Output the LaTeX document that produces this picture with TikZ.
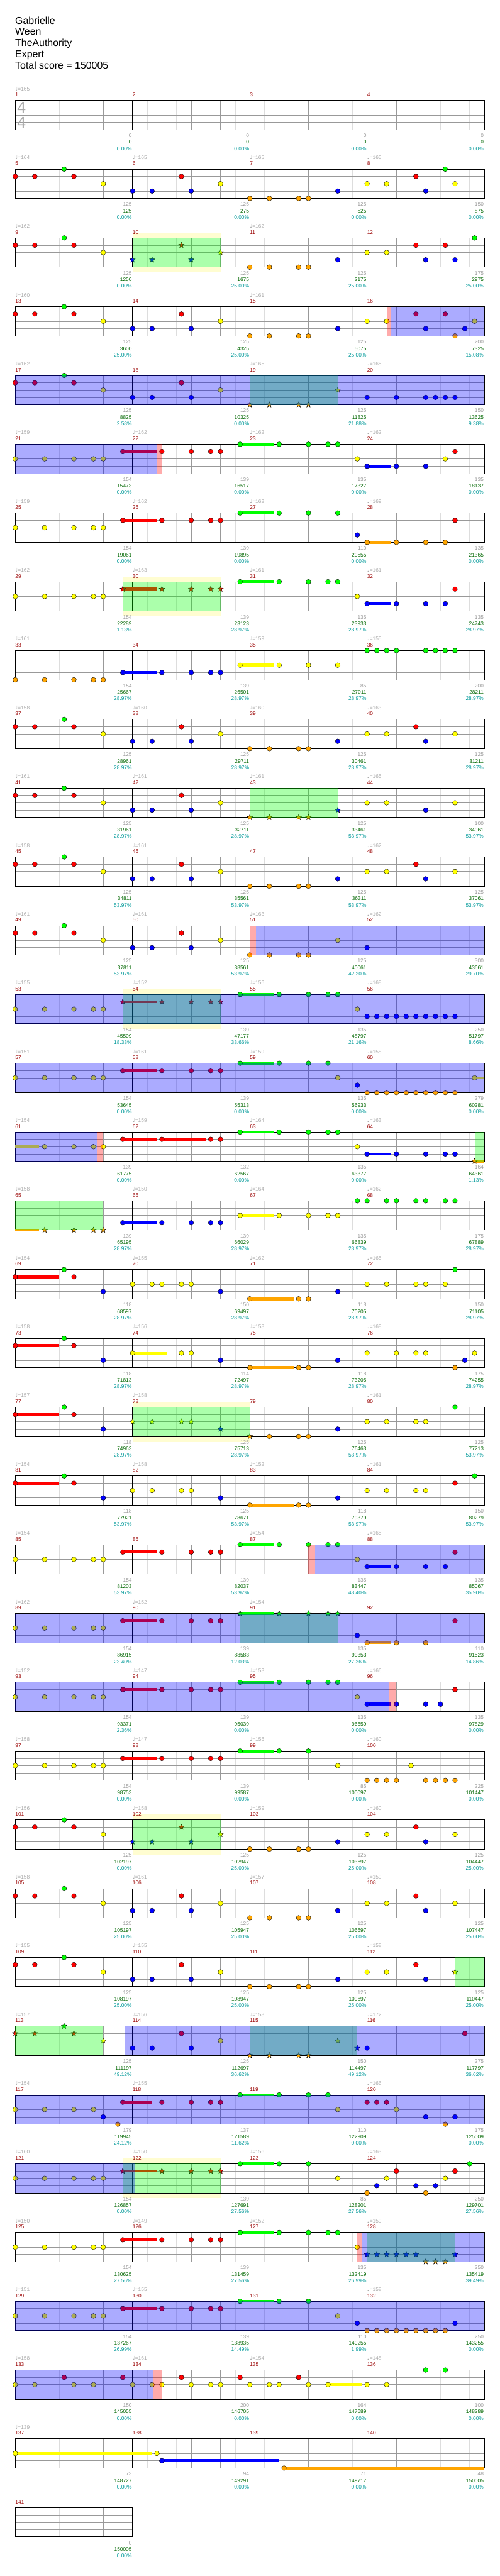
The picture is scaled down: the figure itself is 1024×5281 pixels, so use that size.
\documentclass[tikz,border=0pt]{standalone}
\usepackage{fontspec}
\setmainfont{Liberation Sans}
\newfontfamily\symf{DejaVu Sans}
\usetikzlibrary{shapes.geometric}

\definecolor{lane0}{HTML}{00FF00}
\definecolor{lane1}{HTML}{FF0000}
\definecolor{lane2}{HTML}{FFFF00}
\definecolor{lane3}{HTML}{0000FF}
\definecolor{lane4}{HTML}{FFA500}
\definecolor{gline}{HTML}{999999}
\definecolor{lite}{HTML}{DDDDDD}
\definecolor{cred}{HTML}{990000}
\definecolor{cgray}{HTML}{999999}
\definecolor{cgreen}{HTML}{006600}
\definecolor{ccyan}{HTML}{009999}
\definecolor{ctempo}{HTML}{AAAAAA}

\newcount\ncnt
\newcommand\nts[2]{\foreach \tp in {#2}{\global\advance\ncnt by 1
  \node[notehd,fill=lane#1] (n\the\ncnt) at (\tp,{15*#1}) {};}}
\newcommand\sts[2]{\foreach \tp in {#2}{\global\advance\ncnt by 1
  \node[starhd,fill=lane#1] (n\the\ncnt) at (\tp,{15*#1}) {};}}
\newcommand\sus[3]{\draw[susbar,lane#1] (#2,{15*#1}) -- (#3,{15*#1});}
\newcommand\spb[2]{\fill[spblue] (#1,0) rectangle (#2,60);}
\newcommand\spg[2]{\fill[spgreen] (#1,0) rectangle (#2,60);}
\newcommand\spr[2]{\fill[sppink] (#1,0) rectangle (#2,60);}
\newcommand\grid[1]{%
  \fill[white] (0,0) rectangle (#1,60);
  \foreach \ee in {1.5,4.5,...,#1} \draw[eighth] (\ee,0) -- (\ee,60);
  \foreach \ee in {3,6,...,#1} \draw[beat] (\ee,0) -- (\ee,60);
  \foreach \ee in {15,30,45} \draw[beat] (0,\ee) -- (#1,\ee);}
\newcommand\tempos[2]{\foreach \tv [count=\jj from 0] in {#2}{%
  \ifnum\tv>0 \node[tempo] (tp#1-\jj) at (12*\jj,-20) {{\symf ♩}=\tv};\fi}}
\newcommand\scores[2]{\foreach \ga/\gb/\gc [count=\jj] in {#2}{%
  \node[sgray] (sa#1-\jj) at (12*\jj,76) {\ga};
  \node[sgreen] (sb#1-\jj) at (12*\jj,89.5) {\gb};
  \node[scyan] (sc#1-\jj) at (12*\jj,102.5) {\gc\%};}}

\begin{document}
\begin{tikzpicture}[x=1pt,y=-1pt,
  rowat/.style={shift={(31.3,{205.7+141*(#1-1)})},x=20.033pt},
  notehd/.style={circle,draw=black,line width=.5pt,inner sep=0pt,minimum size=10pt},
  starhd/.style={star,star points=5,star point ratio=2.3,draw=black,line width=.5pt,inner sep=0pt,minimum size=12pt},
  susbar/.style={line width=6pt},
  spblue/.style={fill=blue,fill opacity=.33},
  spgreen/.style={fill=lane0,fill opacity=.33},
  sppink/.style={fill=red,fill opacity=.33},
  halo/.style={fill=yellow,fill opacity=.18},
  eighth/.style={draw=lite,line width=.8pt},
  beat/.style={draw=gline,line width=.8pt},
  barline/.style={draw=black,line width=.8pt},
  staff/.style={draw=black,line width=1pt},
  smalltxt/.style={font=\fontsize{10.8}{12}\selectfont,inner sep=0pt},
  tempo/.style={smalltxt,text=ctempo,anchor=base west},
  mnum/.style={smalltxt,text=cred,anchor=base west},
  sgray/.style={smalltxt,text=cgray,anchor=base east,xshift=-1.3pt},
  sgreen/.style={smalltxt,text=cgreen,anchor=base east,xshift=-1.3pt},
  scyan/.style={smalltxt,text=ccyan,anchor=base east,xshift=-1.3pt},
  title/.style={font=\fontsize{20.5}{23}\selectfont,inner sep=0pt,anchor=base west},
  timesig/.style={font=\fontsize{32}{32}\selectfont,text=ctempo,inner sep=0pt,anchor=base west}]
  \useasboundingbox (0,0) rectangle (1024,5281);

  \node[title] (song) at (31,49) {Gabrielle};
  \node[title] (band) at (31,72) {Ween};
  \node[title] (charter) at (31,95) {TheAuthority};
  \node[title] (level) at (31,118) {Expert};
  \node[title] (total) at (31,141) {Total score = 150005};

  % halos behind the staves
  \foreach \rw/\ha/\hb in {3/12/21,8/11/21,14/11/21,20/12/24,26/12/21,31/11/21}{
    \begin{scope}[rowat=\rw] \fill[halo] (\ha,-11) rectangle (\hb,71); \end{scope}}

  % staves
  \foreach \rw in {1,...,35}{
    \begin{scope}[rowat=\rw]
      \grid{48}
      \foreach \ee in {12,24,36} \draw[barline] (\ee,0) -- (\ee,60);
      \draw[staff] (0,0) rectangle (48,60);
      \foreach \jj in {0,...,3}{\pgfmathtruncatemacro\mn{4*\rw+\jj-3}
        \node[mnum] (mn\mn) at (12*\jj,-7.7) {\mn};}
    \end{scope}}
  \begin{scope}[rowat=36]
    \grid{12}
    \draw[staff] (0,0) rectangle (12,60);
    \node[mnum] (mn141) at (0,-7.7) {141};
    \scores{36}{0/150005/0.00}
  \end{scope}

  \node[timesig] (tsa) at (35,232) {4};
  \node[timesig] (tsb) at (35,263) {4};

  \begin{scope}[rowat=1]
    \tempos{1}{165,0,0,0}
    \scores{1}{0/0/0.00,0/0/0.00,0/0/0.00,0/0/0.00}
  \end{scope}

  \begin{scope}[rowat=2]
    \tempos{2}{164,165,165,165}
    \scores{2}{125/125/0.00,125/275/0.00,125/525/0.00,150/875/0.00}
    \nts0{5,44} \nts1{0,2,6,17,41} \nts2{9,21,36,38,45} \nts3{12,14,18,33,42} \nts4{24,26,29,30}
  \end{scope}

  \begin{scope}[rowat=3]
    \tempos{3}{162,0,162,0}
    \scores{3}{125/1250/0.00,125/1675/25.00,125/2175/25.00,175/2975/25.00}
    \nts0{5,47} \nts1{0,2,6,41,44} \nts2{9,36,38} \nts3{33,42,45} \nts4{24,26,29,30}
    \sts3{12,14,18} \sts1{17} \sts2{21}
    \spg{12}{21}
  \end{scope}

  \begin{scope}[rowat=4]
    \tempos{4}{160,0,161,0}
    \scores{4}{125/3600/25.00,125/4325/25.00,125/5075/25.00,200/7325/15.08}
    \nts0{5} \nts1{0,2,6,17,41,44} \nts2{9,21,36,38,47} \nts3{12,14,18,33,42,46} \nts4{24,26,29,30,45}
    \spr{38}{38.5} \spb{38.5}{48}
  \end{scope}

  \begin{scope}[rowat=5]
    \tempos{5}{162,0,165,165}
    \scores{5}{125/8825/2.58,125/10325/0.00,125/11825/21.88,150/13625/9.38}
    \nts0{5} \nts1{0,2,6,17} \nts2{9,21} \nts3{12,14,18,36,39,42,43,44,45}
    \sts4{24,26,29,30} \sts2{33}
    \spg{24}{33} \spb{0}{48}
  \end{scope}

  \begin{scope}[rowat=6]
    \tempos{6}{159,162,162,162}
    \scores{6}{154/15473/0.00,139/16517/0.00,135/17327/0.00,135/18137/0.00}
    \sus1{11}{14.45} \sus0{23}{26.5} \sus3{36}{38.5}
    \nts0{23,27,30,32,33} \nts1{11,15,18,20,21,45} \nts2{0,3,6,8,9,35,44} \nts3{36,39,42}
    \spb{0}{14.45} \spr{14.45}{15}
  \end{scope}

  \begin{scope}[rowat=7]
    \tempos{7}{159,162,162,169}
    \scores{7}{154/19061/0.00,139/19895/0.00,110/20555/0.00,135/21365/0.00}
    \sus1{11}{14.45} \sus0{23}{26.5} \sus4{36}{38.5}
    \nts0{23,27,30,33} \nts1{11,15,18,20,21,45} \nts2{0,3,6,8,9} \nts3{35} \nts4{36,39,42,44}
  \end{scope}

  \begin{scope}[rowat=8]
    \tempos{8}{162,163,161,161}
    \scores{8}{154/22289/1.13,139/23123/28.97,135/23933/28.97,135/24743/28.97}
    \sus1{11}{14.45} \sus0{23}{26.5} \sus3{36}{38.5}
    \nts0{23,27,30,32,33} \nts1{45} \nts2{0,3,6,8,9,35} \nts3{36,39,42,44}
    \sts1{11,15,18,20,21}
    \spg{11}{21}
  \end{scope}

  \begin{scope}[rowat=9]
    \tempos{9}{161,0,159,155}
    \scores{9}{154/25667/28.97,139/26501/28.97,85/27011/28.97,200/28211/28.97}
    \sus3{11}{14.45} \sus2{23}{26.5}
    \nts0{36,37,38,39,42,43,44,45} \nts2{23,27,30,33} \nts3{11,15,18,20,21} \nts4{0,3,6,8,9}
  \end{scope}

  \begin{scope}[rowat=10]
    \tempos{10}{158,160,160,163}
    \scores{10}{125/28961/28.97,125/29711/28.97,125/30461/28.97,125/31211/28.97}
    \nts0{5} \nts1{0,2,6,17,41} \nts2{9,21,36,38,45} \nts3{12,14,18,33,42} \nts4{24,26,29,30}
  \end{scope}

  \begin{scope}[rowat=11]
    \tempos{11}{161,161,161,165}
    \scores{11}{125/31961/28.97,125/32711/28.97,125/33461/53.97,100/34061/53.97}
    \nts0{5} \nts1{0,2,6,17} \nts2{9,21,36,38,45} \nts3{12,14,18,42}
    \sts4{24,26,29,30} \sts3{33}
    \spg{24}{33}
  \end{scope}

  \begin{scope}[rowat=12]
    \tempos{12}{158,161,0,162}
    \scores{12}{125/34811/53.97,125/35561/53.97,125/36311/53.97,125/37061/53.97}
    \nts0{5} \nts1{0,2,6,17,41} \nts2{9,21,36,38,45} \nts3{12,14,18,33,42} \nts4{24,26,29,30}
  \end{scope}

  \begin{scope}[rowat=13]
    \tempos{13}{161,161,163,162}
    \scores{13}{125/37811/53.97,125/38561/53.97,125/40061/42.20,300/43661/29.70}
    \nts0{5} \nts1{0,2,6,17} \nts2{9,21,33} \nts3{12,14,18,36,...,47} \nts4{24,26,29,30}
    \spr{24}{24.6} \spb{24.6}{48}
  \end{scope}

  \begin{scope}[rowat=14]
    \tempos{14}{155,152,156,168}
    \scores{14}{154/45509/18.33,139/47177/33.66,135/48797/21.16,250/51797/8.66}
    \sus1{11}{14.45} \sus0{23}{26.5}
    \nts0{23,27,30,32,33} \nts2{0,3,6,8,9,35} \nts3{36,...,45}
    \sts1{11,15,18,20,21}
    \spg{11}{21} \spb{0}{48}
  \end{scope}

  \begin{scope}[rowat=15]
    \tempos{15}{151,161,159,158}
    \scores{15}{154/53645/0.00,139/55313/0.00,135/56933/0.00,279/60281/0.00}
    \sus1{11}{14.45} \sus0{23}{26.5} \sus2{47}{48}
    \nts0{23,27,30,32} \nts1{11,15,18,20,21} \nts2{0,3,6,8,9,33,47} \nts3{35} \nts4{36,...,45}
    \spb{0}{48}
  \end{scope}

  \begin{scope}[rowat=16]
    \tempos{16}{154,159,164,163}
    \scores{16}{139/61775/0.00,132/62567/0.00,135/63377/0.00,164/64361/1.13}
    \sus2{0}{2.4} \sus1{11}{14.45} \sus1{15}{19.5} \sus0{23}{26.5} \sus3{36}{38.5} \sus4{47}{48}
    \nts0{23,27,30,32,33} \nts1{11,15,20,21} \nts2{3,6,8,9,35} \nts3{36,39,42,44,45}
    \sts4{47}
    \spb{0}{8.35} \spr{8.35}{9} \spg{47}{48}
  \end{scope}

  \begin{scope}[rowat=17]
    \tempos{17}{158,150,164,162}
    \scores{17}{139/65195/28.97,139/66029/28.97,135/66839/28.97,175/67889/28.97}
    \sus4{0}{2.4} \sus3{11}{14.45} \sus2{23}{26.5}
    \nts0{35,36,38,39,41,42,44,45} \nts2{23,27,30,32,33} \nts3{11,15,18,20,21}
    \sts4{3,6,8,9}
    \spg{0}{9}
  \end{scope}

  \begin{scope}[rowat=18]
    \tempos{18}{154,155,162,165}
    \scores{18}{118/68597/28.97,150/69497/28.97,118/70205/28.97,150/71105/28.97}
    \sus1{0}{4.5} \sus4{24}{28.5}
    \nts0{5,45} \nts1{0,6} \nts2{12,14,15,17,18,36,38,41,42,44} \nts3{9,21,33} \nts4{24,29,30}
  \end{scope}

  \begin{scope}[rowat=19]
    \tempos{19}{158,156,158,168}
    \scores{19}{118/71813/28.97,114/72497/28.97,118/73205/28.97,175/74255/28.97}
    \sus1{0}{4.5} \sus2{12}{15.5} \sus4{24}{28.5}
    \nts0{5} \nts1{0,6} \nts2{12,17,18,36,39,41,42,47} \nts3{9,21,33,46} \nts4{24,29,30,45}
  \end{scope}

  \begin{scope}[rowat=20]
    \tempos{20}{157,158,0,161}
    \scores{20}{118/74963/28.97,125/75713/28.97,125/76463/53.97,125/77213/53.97}
    \sus1{0}{4.5}
    \nts0{5,45} \nts1{0,6} \nts2{36,38,41,42} \nts3{9,33} \nts4{26,29,30}
    \sts2{12,14,17,18} \sts3{21} \sts4{24}
    \spg{12}{24}
  \end{scope}

  \begin{scope}[rowat=21]
    \tempos{21}{154,158,152,161}
    \scores{21}{118/77921/53.97,125/78671/53.97,118/79379/53.97,150/80279/53.97}
    \sus1{0}{4.5} \sus4{24}{28.5}
    \nts0{5,47} \nts1{0,6,45} \nts2{12,14,17,18,36,38,41,42} \nts3{9,21,33} \nts4{24,29,30}
  \end{scope}

  \begin{scope}[rowat=22]
    \tempos{22}{154,0,154,165}
    \scores{22}{154/81203/53.97,139/82037/53.97,135/83447/48.40,135/85067/35.90}
    \sus1{11}{14.45} \sus0{23}{26.5} \sus3{36}{38.5}
    \nts0{23,27,30,32,33} \nts1{11,15,18,20,21,45} \nts2{0,3,6,8,9,35} \nts3{36,39,42,44}
    \spr{30}{30.65} \spb{30.65}{48}
  \end{scope}

  \begin{scope}[rowat=23]
    \tempos{23}{162,152,154,0}
    \scores{23}{154/86915/23.40,139/88583/12.03,135/90353/27.36,110/91523/14.86}
    \sus1{11}{14.45} \sus0{23}{26.5} \sus4{36}{38.5}
    \nts1{11,15,18,20,21,45} \nts2{0,3,6,8,9} \nts3{35} \nts4{36,39,42}
    \sts0{23,27,30,32,33}
    \spg{23}{33} \spb{0}{48}
  \end{scope}

  \begin{scope}[rowat=24]
    \tempos{24}{152,147,153,166}
    \scores{24}{154/93371/2.36,139/95039/0.00,135/96659/0.00,135/97829/0.00}
    \sus1{11}{14.45} \sus0{23}{26.5} \sus3{36}{38.5}
    \nts0{23,27,30,32,33} \nts1{11,15,18,20,21,45} \nts2{0,3,6,8,9,35} \nts3{36,39,42,43.5}
    \spb{0}{38.26} \spr{38.26}{39}
  \end{scope}

  \begin{scope}[rowat=25]
    \tempos{25}{158,147,156,160}
    \scores{25}{154/98753/0.00,139/99587/0.00,85/100097/0.00,225/101447/0.00}
    \sus1{11}{14.45} \sus0{23}{26.5}
    \nts0{23,27,30} \nts1{11,15,18,20,21} \nts2{0,3,6,8,9,33,40.5} \nts4{36,37,38,39,42,43,44,45}
  \end{scope}

  \begin{scope}[rowat=26]
    \tempos{26}{156,158,159,160}
    \scores{26}{125/102197/0.00,125/102947/25.00,125/103697/25.00,125/104447/25.00}
    \nts0{5} \nts1{0,2,6,41} \nts2{9,36,38,45} \nts3{33,42} \nts4{24,26,29,30}
    \sts3{12,14,18} \sts1{17} \sts2{21}
    \spg{12}{21}
  \end{scope}

  \begin{scope}[rowat=27]
    \tempos{27}{158,161,157,159}
    \scores{27}{125/105197/25.00,125/105947/25.00,125/106697/25.00,125/107447/25.00}
    \nts0{5} \nts1{0,2,6,17,41} \nts2{9,21,36,38,45} \nts3{12,14,18,33,42} \nts4{24,26,29,30}
  \end{scope}

  \begin{scope}[rowat=28]
    \tempos{28}{155,155,0,158}
    \scores{28}{125/108197/25.00,125/108947/25.00,125/109697/25.00,125/110447/25.00}
    \nts0{5} \nts1{0,2,6,17,41} \nts2{9,21,36,38} \nts3{12,14,18,33,42} \nts4{24,26,29,30}
    \sts2{45}
    \spg{45}{48}
  \end{scope}

  \begin{scope}[rowat=29]
    \tempos{29}{157,156,158,172}
    \scores{29}{125/111197/49.12,125/112697/36.62,150/114497/49.12,275/117797/36.62}
    \nts1{17,46} \nts2{21} \nts3{12,14,18,36,...,45}
    \sts0{5} \sts1{0,2,6} \sts2{9,33} \sts3{35} \sts4{24,26,29,30}
    \spg{0}{9} \spg{24}{35} \spb{11.15}{48}
  \end{scope}

  \begin{scope}[rowat=30]
    \tempos{30}{154,155,0,166}
    \scores{30}{179/119945/24.12,137/121589/11.62,110/122909/0.00,175/125009/0.00}
    \sus1{11}{14} \sus0{23}{26.5}
    \nts0{23,27,30,32} \nts1{11,15,18,20,21,36,37,38} \nts2{0,3,6,8,33,39} \nts3{9,42,45} \nts4{10.5,44}
    \spb{0}{48}
  \end{scope}

  \begin{scope}[rowat=31]
    \tempos{31}{160,150,156,163}
    \scores{31}{154/126857/0.00,139/127691/27.56,85/128201/27.56,250/129701/27.56}
    \sus1{11}{14.45} \sus0{23}{26.5}
    \nts0{23,27,30,46.5} \nts1{39,45} \nts2{0,3,6,8,9,33,38,44} \nts3{37,41,43} \nts4{36,42}
    \sts1{11,15,18,20,21}
    \spg{11}{21} \spb{0}{12.2}
  \end{scope}

  \begin{scope}[rowat=32]
    \tempos{32}{150,149,152,159}
    \scores{32}{154/130625/27.56,139/131459/27.56,135/132419/26.99,250/135419/39.49}
    \sus1{11}{14.45} \sus0{23}{26.5}
    \nts0{23,27,30,32,33} \nts1{11,15,18,20,21} \nts2{0,3,6,8,9,35}
    \sts3{36,37,38,39,40,41,45} \sts4{42,43,44}
    \spr{35}{35.5} \spg{36}{45} \spb{35.5}{48}
  \end{scope}

  \begin{scope}[rowat=33]
    \tempos{33}{151,155,0,158}
    \scores{33}{154/137267/26.99,139/138935/14.49,110/140255/1.99,250/143255/0.00}
    \sus1{11}{14.45} \sus0{23}{26.5}
    \nts0{23,27,30} \nts1{11,15,18,20,21} \nts2{0,3,6,8,9,33} \nts3{35,45} \nts4{36,...,44}
    \spb{0}{48}
  \end{scope}

  \begin{scope}[rowat=34]
    \tempos{34}{158,161,154,148}
    \scores{34}{150/145055/0.00,200/146705/0.00,164/147689/0.00,100/148289/0.00}
    \sus2{32}{35.5}
    \nts0{42,44} \nts1{5,11,17,23,29} \nts2{0,2,6,8,12,14,15,18,20,21,24,26,27,30,32,36,38}
    \spb{0}{14.16} \spr{14.16}{15}
  \end{scope}

  \begin{scope}[rowat=35]
    \tempos{35}{139,0,0,0}
    \scores{35}{73/148727/0.00,94/149291/0.00,71/149717/0.00,48/150005/0.00}
    \sus2{0}{14} \sus3{15}{27} \sus4{27.5}{48}
    \nts2{0,14.5} \nts3{15} \nts4{27.5}
  \end{scope}
\end{tikzpicture}
\end{document}
